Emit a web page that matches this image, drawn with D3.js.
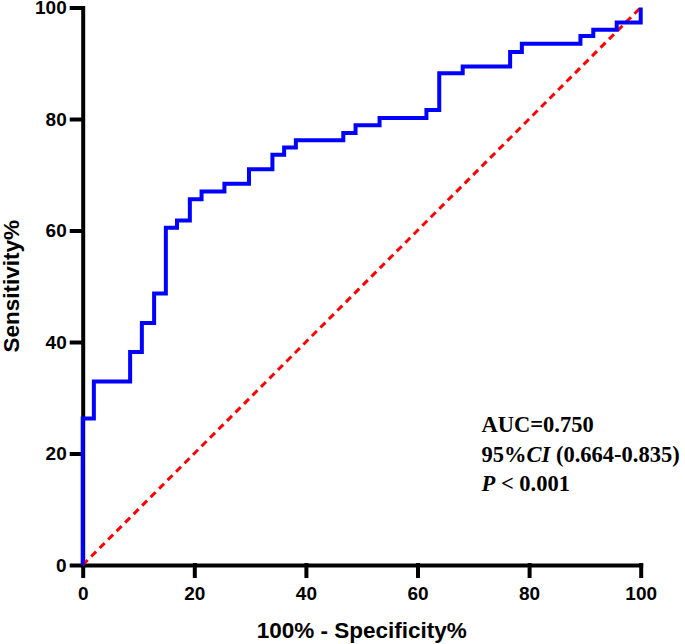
<!DOCTYPE html>
<html>
<head>
<meta charset="utf-8">
<script src="https://cdn.jsdelivr.net/npm/d3@7"></script>
<style>
  body { margin: 0; background: #fff; }
  .axis text { font-family: "Liberation Sans", Arial, sans-serif; font-weight: bold; font-size: 19px; fill: #000; }
  .axis path, .axis line { stroke: #000; stroke-width: 4; stroke-linecap: square; }
</style>
</head>
<body>
<script>
// ROC step corners (100% - specificity, sensitivity)
var fpr  = [0, 0, 2.0, 8.5, 10.6, 12.8, 14.9, 16.9, 19.2, 21.3, 25.4, 29.8, 34.0, 36.1,
            38.2, 46.7, 48.9, 53.2, 61.6, 63.9, 68.1, 76.6, 78.7, 89.2, 91.5, 95.7, 100];
var sens = [0, 26.3, 32.9, 38.2, 43.4, 48.7, 60.5, 61.8, 65.6, 67.0, 68.4, 71.0, 73.6, 74.9,
            76.2, 77.5, 78.9, 80.2, 81.6, 88.2, 89.4, 92.0, 93.5, 94.9, 96.0, 97.3, 100];
var ticks = [0, 20, 40, 60, 80, 100];
var refLine = [[0, 0], [100, 100]];

var width = 685, height = 644;
var margin = {top: 7.5, right: 44.3, bottom: 79, left: 82.7};

const svg = d3.select("body")
    .append("svg")
    .attr("width", width)
    .attr("height", height);

var xscale = d3.scaleLinear()
    .domain([0, 100])
    .range([margin.left, width - margin.right]);

var yscale = d3.scaleLinear()
    .domain([0, 100])
    .range([height - margin.bottom, margin.top]);

// x-axis
svg.append("g")
    .attr("class", "axis")
    .attr("transform", `translate(0,${height - margin.bottom})`)
    .call(d3.axisBottom(xscale).tickValues(ticks).tickSize(11).tickSizeOuter(0).tickPadding(11));

// y-axis
svg.append("g")
    .attr("class", "axis")
    .attr("transform", `translate(${margin.left},0)`)
    .call(d3.axisLeft(yscale).tickValues(ticks).tickSize(11).tickSizeOuter(0).tickPadding(5));

// reference diagonal
svg.append("path")
    .datum(refLine)
    .attr("fill", "none")
    .attr("stroke", "#ff0000")
    .attr("stroke-width", 3)
    .attr("stroke-dasharray", "7,5")
    .attr("d", d3.line().x(d => xscale(d[0])).y(d => yscale(d[1])));

// ROC curve
var roc = fpr.map((f, i) => ({x: f, y: sens[i]}));
svg.append("path")
    .datum(roc)
    .attr("fill", "none")
    .attr("stroke", "#0000ff")
    .attr("stroke-width", 4)
    .attr("stroke-linejoin", "miter")
    .attr("d", d3.line().curve(d3.curveStepAfter).x(d => xscale(d.x)).y(d => yscale(d.y)));

// axis titles
svg.append("text")
    .attr("x", (margin.left + width - margin.right) / 2)
    .attr("y", 638)
    .attr("text-anchor", "middle")
    .style("font-family", "'Liberation Sans', Arial, sans-serif")
    .style("font-weight", "bold")
    .style("font-size", "22.5px")
    .text("100% - Specificity%");

svg.append("text")
    .attr("transform", `translate(19,${(margin.top + height - margin.bottom) / 2}) rotate(-90)`)
    .attr("text-anchor", "middle")
    .style("font-family", "'Liberation Sans', Arial, sans-serif")
    .style("font-weight", "bold")
    .style("font-size", "22.5px")
    .text("Sensitivity%");

// stats
var stats = svg.append("g")
    .style("font-family", "'Liberation Serif', 'Times New Roman', serif")
    .style("font-weight", "bold")
    .style("font-size", "22.5px");

stats.append("text").attr("x", 481.5).attr("y", 432).text("AUC=0.750");

var ci = stats.append("text").attr("x", 481.5).attr("y", 461.5);
ci.append("tspan").text("95%");
ci.append("tspan").style("font-style", "italic").text("CI");
ci.append("tspan").text(" (0.664-0.835)");

var p = stats.append("text").attr("x", 481.5).attr("y", 491);
p.append("tspan").style("font-style", "italic").text("P");
p.append("tspan").text(" < 0.001");
</script>
</body>
</html>
